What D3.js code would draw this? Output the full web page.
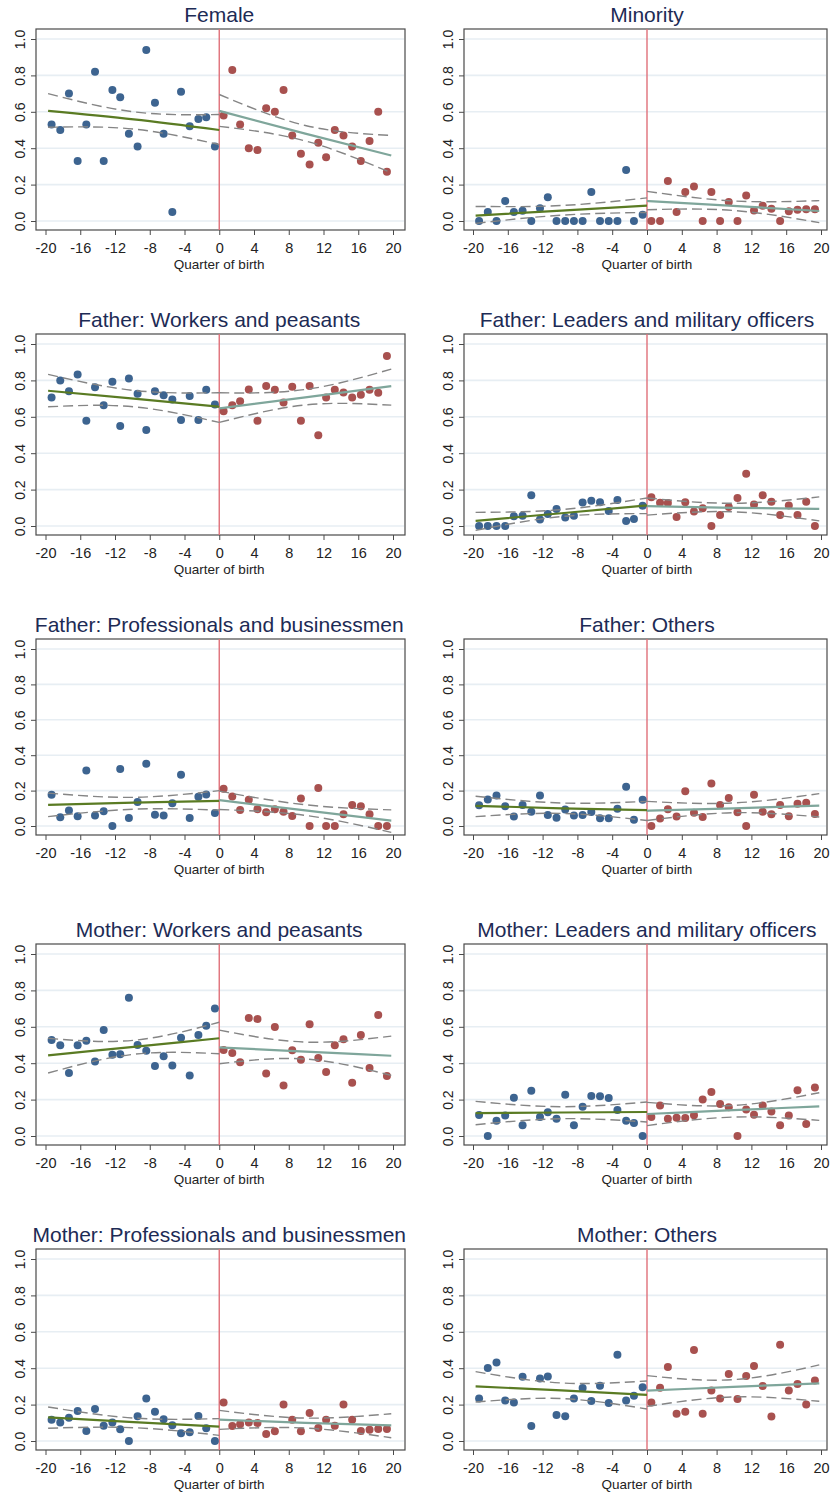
<!DOCTYPE html>
<html>
<head>
<meta charset="utf-8">
<script src="https://cdn.jsdelivr.net/npm/d3@7"></script>
<style>
  body { margin: 0; background: #fff; }
  svg { display: block; }
  text { font-family: "Liberation Sans", Arial, Helvetica, sans-serif; }
</style>
</head>
<body>
<svg id="chart" width="833" height="1495"></svg>
<script>
// Bin centres (quarters of birth relative to the cutoff)
const quarterBefore = [-19.3, -18.3, -17.3, -16.3, -15.3, -14.3, -13.3, -12.3, -11.4, -10.4,
                       -9.4, -8.4, -7.4, -6.4, -5.4, -4.4, -3.4, -2.4, -1.5, -0.5];
const quarterAfter  = [0.5, 1.5, 2.4, 3.4, 4.4, 5.4, 6.4, 7.4, 8.4, 9.4,
                       10.4, 11.4, 12.3, 13.3, 14.3, 15.3, 16.3, 17.3, 18.3, 19.3];
// Positions where the fitted line and its confidence band are evaluated
// (left segment: start, middle, end; right segment: start, middle, end)
const fitQuarter = [-19.7, -9.85, 0, 0, 9.9, 19.8];

const yTicks = [0, 0.2, 0.4, 0.6, 0.8, 1.0];
const xTicks = [-20, -16, -12, -8, -4, 0, 4, 8, 12, 16, 20];

const titles = [
  "Female", "Minority",
  "Father: Workers and peasants", "Father: Leaders and military officers",
  "Father: Professionals and businessmen", "Father: Others",
  "Mother: Workers and peasants", "Mother: Leaders and military officers",
  "Mother: Professionals and businessmen", "Mother: Others"
];

// Female
const femaleBefore = [0.53, 0.50, 0.70, 0.33, 0.53, 0.82, 0.33, 0.72, 0.68, 0.48, 0.41, 0.94, 0.65, 0.48, 0.05, 0.71, 0.52, 0.56, 0.57, 0.41];
const femaleAfter  = [0.58, 0.83, 0.53, 0.40, 0.39, 0.62, 0.60, 0.72, 0.47, 0.37, 0.31, 0.43, 0.35, 0.50, 0.47, 0.41, 0.33, 0.44, 0.60, 0.27];
const femaleFit  = [0.605, 0.558, 0.50, 0.605, 0.48, 0.36];
const femaleLow  = [0.515, 0.505, 0.42, 0.52, 0.44, 0.265];
const femaleHigh = [0.70, 0.60, 0.585, 0.695, 0.525, 0.47];

// Minority
const minorityBefore = [0, 0.05, 0, 0.11, 0.05, 0.056, 0, 0.07, 0.13, 0, 0, 0, 0, 0.16, 0, 0, 0, 0.28, 0, 0.035];
const minorityAfter  = [0, 0, 0.22, 0.05, 0.16, 0.19, 0, 0.16, 0, 0.105, 0, 0.14, 0.058, 0.084, 0.067, 0, 0.054, 0.062, 0.065, 0.065];
const minorityFit  = [0.03, 0.057, 0.085, 0.11, 0.083, 0.055];
const minorityLow  = [-0.013, 0.032, 0.047, 0.062, 0.058, -0.009];
const minorityHigh = [0.08, 0.085, 0.127, 0.163, 0.11, 0.112];

// Father: Workers and peasants
const fWorkersBefore = [0.706, 0.80, 0.74, 0.833, 0.578, 0.763, 0.664, 0.793, 0.549, 0.811, 0.727, 0.528, 0.741, 0.719, 0.695, 0.583, 0.714, 0.583, 0.749, 0.668];
const fWorkersAfter  = [0.631, 0.664, 0.686, 0.75, 0.578, 0.769, 0.749, 0.679, 0.765, 0.578, 0.769, 0.499, 0.706, 0.749, 0.734, 0.706, 0.721, 0.749, 0.732, 0.934];
const fWorkersFit  = [0.743, 0.70, 0.655, 0.646, 0.707, 0.769];
const fWorkersLow  = [0.655, 0.655, 0.569, 0.569, 0.665, 0.664];
const fWorkersHigh = [0.833, 0.745, 0.732, 0.732, 0.75, 0.862];

// Father: Leaders and military officers
const fLeadersBefore = [0, 0, 0, 0, 0.053, 0.056, 0.169, 0.036, 0.066, 0.094, 0.047, 0.056, 0.129, 0.139, 0.131, 0.083, 0.143, 0.028, 0.038, 0.111];
const fLeadersAfter  = [0.158, 0.128, 0.126, 0.049, 0.131, 0.079, 0.098, 0, 0.06, 0.105, 0.154, 0.287, 0.118, 0.169, 0.133, 0.06, 0.113, 0.06, 0.133, 0];
const fLeadersFit  = [0.028, 0.07, 0.113, 0.109, 0.10, 0.094];
const fLeadersLow  = [-0.024, 0.052, 0.068, 0.06, 0.078, 0.028];
const fLeadersHigh = [0.075, 0.09, 0.154, 0.154, 0.125, 0.16];

// Father: Professionals and businessmen
const fProfBefore = [0.176, 0.049, 0.087, 0.055, 0.314, 0.059, 0.083, 0, 0.322, 0.045, 0.136, 0.352, 0.064, 0.059, 0.129, 0.29, 0.045, 0.165, 0.178, 0.074];
const fProfAfter  = [0.21, 0.167, 0.091, 0.148, 0.095, 0.078, 0.095, 0.08, 0.057, 0.155, 0, 0.214, 0, 0, 0.066, 0.119, 0.112, 0.066, 0, 0];
const fProfFit  = [0.119, 0.132, 0.142, 0.146, 0.088, 0.03];
const fProfLow  = [0.053, 0.095, 0.09, 0.093, 0.06, -0.036];
const fProfHigh = [0.186, 0.162, 0.20, 0.197, 0.12, 0.091];

// Father: Others
const fOthersBefore = [0.117, 0.15, 0.172, 0.112, 0.053, 0.119, 0.081, 0.172, 0.062, 0.046, 0.093, 0.059, 0.062, 0.079, 0.044, 0.044, 0.097, 0.222, 0.035, 0.148];
const fOthersAfter  = [0, 0.042, 0.095, 0.053, 0.196, 0.075, 0.051, 0.24, 0.119, 0.158, 0.077, 0, 0.176, 0.081, 0.066, 0.119, 0.055, 0.126, 0.132, 0.068];
const fOthersFit  = [0.114, 0.10, 0.09, 0.086, 0.10, 0.115];
const fOthersLow  = [0.053, 0.071, 0.031, 0.031, 0.075, 0.051];
const fOthersHigh = [0.168, 0.13, 0.139, 0.139, 0.13, 0.183];

// Mother: Workers and peasants
const mWorkersBefore = [0.527, 0.498, 0.346, 0.498, 0.524, 0.41, 0.582, 0.447, 0.449, 0.76, 0.5, 0.469, 0.385, 0.438, 0.388, 0.54, 0.332, 0.555, 0.606, 0.701];
const mWorkersAfter  = [0.473, 0.456, 0.405, 0.648, 0.643, 0.344, 0.599, 0.278, 0.471, 0.419, 0.614, 0.429, 0.352, 0.498, 0.531, 0.293, 0.555, 0.374, 0.665, 0.33];
const mWorkersFit  = [0.443, 0.49, 0.537, 0.487, 0.464, 0.441];
const mWorkersLow  = [0.346, 0.449, 0.452, 0.397, 0.423, 0.333];
const mWorkersHigh = [0.537, 0.526, 0.625, 0.582, 0.516, 0.549];

// Mother: Leaders and military officers
const mLeadersBefore = [0.115, 0, 0.084, 0.112, 0.21, 0.059, 0.249, 0.104, 0.13, 0.095, 0.227, 0.059, 0.161, 0.22, 0.218, 0.209, 0.143, 0.084, 0.071, 0];
const mLeadersAfter  = [0.104, 0.167, 0.095, 0.1, 0.099, 0.114, 0.201, 0.242, 0.176, 0.158, 0, 0.145, 0.117, 0.167, 0.134, 0.059, 0.112, 0.251, 0.066, 0.267];
const mLeadersFit  = [0.126, 0.129, 0.132, 0.121, 0.142, 0.163];
const mLeadersLow  = [0.062, 0.095, 0.077, 0.057, 0.104, 0.086];
const mLeadersHigh = [0.19, 0.161, 0.187, 0.185, 0.168, 0.238];

// Mother: Professionals and businessmen
const mProfBefore = [0.117, 0.101, 0.128, 0.165, 0.055, 0.176, 0.084, 0.101, 0.064, 0, 0.136, 0.234, 0.161, 0.119, 0.086, 0.042, 0.048, 0.137, 0.07, 0];
const mProfAfter  = [0.211, 0.082, 0.092, 0.101, 0.099, 0.038, 0.053, 0.2, 0.117, 0.053, 0.154, 0.071, 0.117, 0.084, 0.201, 0.117, 0.055, 0.062, 0.066, 0.066];
const mProfFit  = [0.13, 0.104, 0.079, 0.117, 0.10, 0.086];
const mProfLow  = [0.07, 0.073, 0.031, 0.064, 0.071, 0.018];
const mProfHigh = [0.187, 0.126, 0.123, 0.168, 0.126, 0.15];

// Mother: Others
const mOthersBefore = [0.234, 0.401, 0.432, 0.222, 0.211, 0.353, 0.082, 0.344, 0.355, 0.143, 0.136, 0.234, 0.291, 0.22, 0.304, 0.209, 0.474, 0.222, 0.249, 0.295];
const mOthersAfter  = [0.211, 0.293, 0.407, 0.15, 0.161, 0.5, 0.15, 0.278, 0.234, 0.368, 0.231, 0.357, 0.412, 0.302, 0.134, 0.529, 0.277, 0.313, 0.2, 0.332];
const mOthersFit  = [0.30, 0.278, 0.253, 0.277, 0.297, 0.317];
const mOthersLow  = [0.214, 0.233, 0.176, 0.19, 0.242, 0.218];
const mOthersHigh = [0.381, 0.319, 0.33, 0.359, 0.337, 0.418];

const panels = [
  { before: femaleBefore,   after: femaleAfter,   fit: femaleFit,   low: femaleLow,   high: femaleHigh },
  { before: minorityBefore, after: minorityAfter, fit: minorityFit, low: minorityLow, high: minorityHigh },
  { before: fWorkersBefore, after: fWorkersAfter, fit: fWorkersFit, low: fWorkersLow, high: fWorkersHigh },
  { before: fLeadersBefore, after: fLeadersAfter, fit: fLeadersFit, low: fLeadersLow, high: fLeadersHigh },
  { before: fProfBefore,    after: fProfAfter,    fit: fProfFit,    low: fProfLow,    high: fProfHigh },
  { before: fOthersBefore,  after: fOthersAfter,  fit: fOthersFit,  low: fOthersLow,  high: fOthersHigh },
  { before: mWorkersBefore, after: mWorkersAfter, fit: mWorkersFit, low: mWorkersLow, high: mWorkersHigh },
  { before: mLeadersBefore, after: mLeadersAfter, fit: mLeadersFit, low: mLeadersLow, high: mLeadersHigh },
  { before: mProfBefore,    after: mProfAfter,    fit: mProfFit,    low: mProfLow,    high: mProfHigh },
  { before: mOthersBefore,  after: mOthersAfter,  fit: mOthersFit,  low: mOthersLow,  high: mOthersHigh }
];

// Grid geometry: pixel rows for y = 1.0 / y = 0.0, and columns for x = -20 / x = 20
const rowY = [[39, 221], [344, 526], [649, 826], [954, 1136], [1259, 1441]];
const colX = [[45.5, 393], [473, 821]];
const frameX = [[36, 405], [464, 827]];

const C = {
  blue: "#3d6490",
  red: "#a8514f",
  fitLeft: "#5a7b23",
  fitRight: "#7fa69b",
  ci: "#858585",
  cutoff: "#e0707a",
  grid: "#e7eef3",
  frame: "#4a4a4a",
  title: "#1d2b55",
  text: "#222"
};

const svg = d3.select("#chart");

panels.forEach((p, i) => {
  const row = Math.floor(i / 2), col = i % 2;
  const x = d3.scaleLinear().domain([-20, 20]).range(colX[col]);
  const y = d3.scaleLinear().domain([0, 1]).range([rowY[row][1], rowY[row][0]]);
  const fx0 = frameX[col][0], fx1 = frameX[col][1];
  const fy0 = y(1) - 10, fy1 = y(0) + 9;

  const g = svg.append("g");

  // horizontal grid
  g.selectAll("line.grid").data(yTicks).join("line")
    .attr("x1", fx0 + 1).attr("x2", fx1 - 1)
    .attr("y1", d => y(d)).attr("y2", d => y(d))
    .attr("stroke", C.grid).attr("stroke-width", 1.6);

  // frame
  g.append("rect")
    .attr("x", fx0).attr("y", fy0)
    .attr("width", fx1 - fx0).attr("height", fy1 - fy0)
    .attr("fill", "none").attr("stroke", C.frame).attr("stroke-width", 1.2);

  // y axis with rotated labels
  const ya = g.append("g").attr("transform", `translate(${fx0},0)`)
    .call(d3.axisLeft(y).tickValues(yTicks).tickFormat(d3.format(".1f")).tickSize(5));
  ya.select(".domain").remove();
  ya.selectAll(".tick line").attr("stroke", C.frame);
  ya.selectAll(".tick text")
    .attr("transform", "rotate(-90)")
    .attr("x", 0).attr("y", -11).attr("dy", 0)
    .attr("text-anchor", "middle")
    .attr("font-size", 14).attr("fill", C.text)
    .style("font-family", '"Liberation Sans", Arial, sans-serif');

  // x axis (plain hyphen for negative labels)
  const xa = g.append("g").attr("transform", `translate(0,${fy1})`)
    .call(d3.axisBottom(x).tickValues(xTicks).tickFormat(d => String(d)).tickSize(5).tickPadding(8));
  xa.select(".domain").remove();
  xa.selectAll(".tick line").attr("stroke", C.frame);
  xa.selectAll(".tick text")
    .attr("font-size", 14.5).attr("fill", C.text)
    .style("font-family", '"Liberation Sans", Arial, sans-serif');

  g.append("text")
    .attr("x", x(0)).attr("y", fy1 + 39)
    .attr("text-anchor", "middle")
    .attr("font-size", 13.5).attr("fill", C.text)
    .text("Quarter of birth");

  // title
  g.append("text")
    .attr("x", x(0)).attr("y", fy0 - 7)
    .attr("text-anchor", "middle")
    .attr("font-size", 21).attr("fill", C.title)
    .text(titles[i]);

  // cutoff line
  g.append("line")
    .attr("x1", x(0)).attr("x2", x(0))
    .attr("y1", fy0).attr("y2", fy1)
    .attr("stroke", C.cutoff).attr("stroke-width", 1.4);

  // points
  g.selectAll("circle.before").data(p.before).join("circle")
    .attr("cx", (d, k) => x(quarterBefore[k])).attr("cy", d => y(d))
    .attr("r", 4).attr("fill", C.blue);
  g.selectAll("circle.after").data(p.after).join("circle")
    .attr("cx", (d, k) => x(quarterAfter[k])).attr("cy", d => y(d))
    .attr("r", 4).attr("fill", C.red);

  // fitted lines and confidence bands
  const seg = (vals, s) => [0, 1, 2].map(k => [fitQuarter[s + k], vals[s + k]]);
  const line = d3.line().x(d => x(d[0])).y(d => y(d[1])).curve(d3.curveNatural);

  [0, 3].forEach(s => {
    [p.low, p.high].forEach(band => {
      g.append("path")
        .attr("d", line(seg(band, s)))
        .attr("fill", "none").attr("stroke", C.ci)
        .attr("stroke-width", 1.4).attr("stroke-dasharray", "10,5");
    });
    g.append("path")
      .attr("d", line(seg(p.fit, s)))
      .attr("fill", "none")
      .attr("stroke", s === 0 ? C.fitLeft : C.fitRight)
      .attr("stroke-width", 2.2);
  });
});
</script>
</body>
</html>
